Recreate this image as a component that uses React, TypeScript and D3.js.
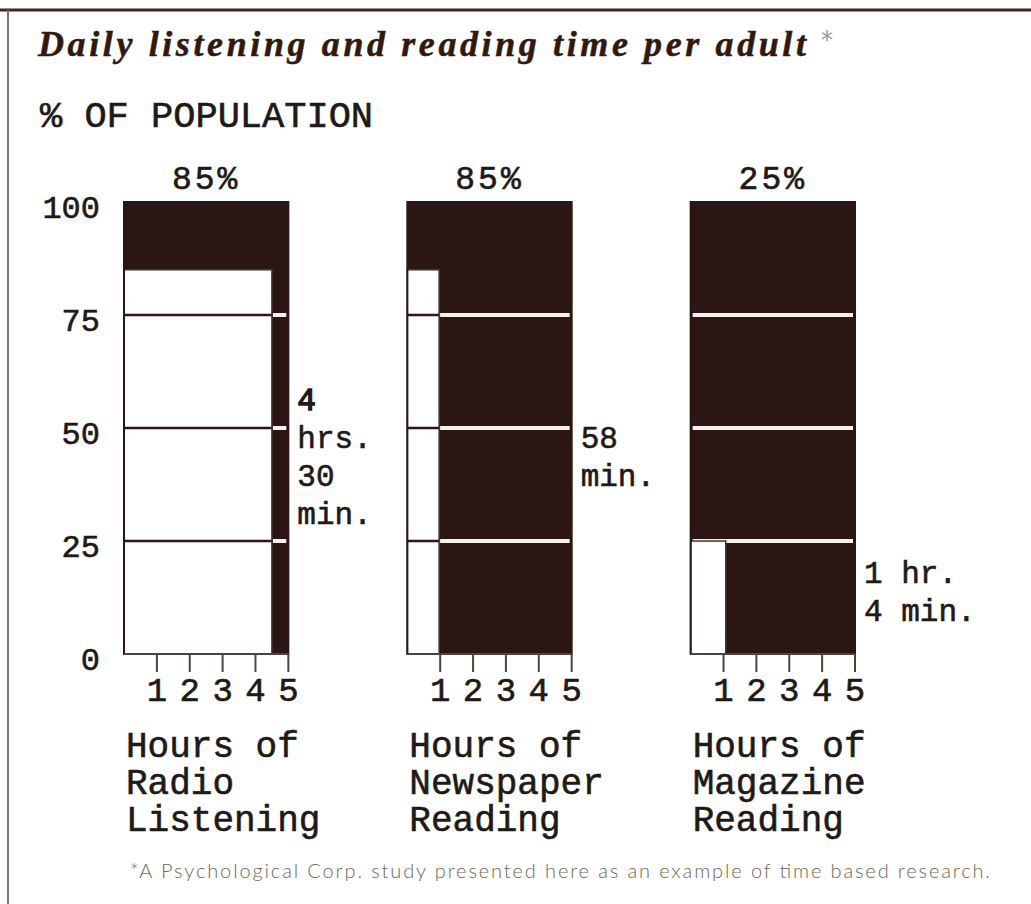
import React from 'react';
import * as d3 from 'd3';

// values
const media = ['Radio Listening', 'Newspaper Reading', 'Magazine Reading'];
const pctOfPopulation = [85, 85, 25];
const hoursPerDay = [4.5, 58 / 60, 64 / 60];
const pctLabels = ['85%', '85%', '25%'];
const timeLabels = [['4', 'hrs.', '30', 'min.'], ['58', 'min.'], ['1 hr.', '4 min.']];
const axisTitles = [
  ['Hours of', 'Radio', 'Listening'],
  ['Hours of', 'Newspaper', 'Reading'],
  ['Hours of', 'Magazine', 'Reading'],
];
const pctTicks = [0, 25, 50, 75, 100];
const gridTicks = [25, 50, 75];
const hourTicks = [1, 2, 3, 4, 5];

const W = 1031;
const H = 904;
const DARK = '#2c1613';
const INK = '#1e1a17';
const MONO = '"Liberation Mono", "DejaVu Sans Mono", monospace';

// typewriter text is a little heavier than Liberation Mono
const mono = { fontFamily: MONO, fill: INK, stroke: INK, strokeWidth: 0.6 };

const App: React.FC = () => {
  const panel = d3.scaleBand().domain(media).range([124, 855]).paddingInner(0.42).paddingOuter(0);
  const y = d3.scaleLinear().domain([0, 100]).range([654, 202]);
  const bw = panel.bandwidth();

  return (
    <svg width={W} height={H} style={{ display: 'block', background: '#fff' }}>
      <style>{`body{margin:0}`}</style>
      {/* frame */}
      <line x1={0} x2={W} y1={10} y2={10} stroke="#3a2a22" strokeWidth={3} />
      <line x1={8} x2={8} y1={10} y2={H} stroke="#777" strokeWidth={2} />

      <text x={38} y={56} fontFamily='"Liberation Serif", serif' fontWeight="bold" fontStyle="italic"
        fontSize={36} fill="#301a10" stroke="#301a10" strokeWidth={0.5} textLength={768} lengthAdjust="spacing">
        Daily listening and reading time per adult
      </text>
      <text x={821} y={48} fontFamily='"DejaVu Sans", sans-serif' fontSize={24} fill="#9a9a9a">*</text>

      <text x={40} y={127} fontSize={37} {...mono}>% OF POPULATION</text>

      {pctTicks.map((t) => (
        <text key={t} x={100} y={y(t) + 5} dy="0.35em" textAnchor="end" fontSize={32} {...mono}>
          {t}
        </text>
      ))}

      {media.map((m, i) => {
        const x0 = panel(m) as number;
        const x = d3.scaleLinear().domain([0, 5]).range([x0, x0 + bw]);
        const wx = x(hoursPerDay[i]);
        const wy = y(pctOfPopulation[i]);
        const labelMid = y(pctOfPopulation[i] / 2);
        const nLines = timeLabels[i].length;
        return (
          <g key={m}>
            <rect x={x(0)} y={y(100)} width={x(5) - x(0)} height={y(0) - y(100)} fill={DARK} />
            <rect x={x(0)} y={wy} width={wx - x(0)} height={y(0) - wy} fill="#fff" />
            {gridTicks.map((g) => {
              const inWhite = g < pctOfPopulation[i];
              return (
                <g key={g}>
                  {inWhite && (
                    <line x1={x(0)} x2={wx} y1={y(g)} y2={y(g)} stroke={DARK} strokeWidth={2.5} />
                  )}
                  <line x1={inWhite ? wx + 1 : x(0) + 2} x2={x(5) - 2} y1={y(g)} y2={y(g)}
                    stroke="#f4f1ea" strokeWidth={4} />
                </g>
              );
            })}
            {/* white area outline */}
            <rect x={x(0)} y={wy} width={wx - x(0)} height={y(0) - wy} fill="none" stroke="#3d3a30" strokeWidth={1.5} />
            <rect x={x(0)} y={y(100)} width={x(5) - x(0)} height={y(0) - y(100)} fill="none" stroke={DARK} strokeWidth={2} />

            {/* hour axis */}
            <line x1={x(0)} x2={x(5)} y1={y(0)} y2={y(0)} stroke="#4a463c" strokeWidth={2} />
            {hourTicks.map((h) => (
              <g key={h}>
                <line x1={x(h)} x2={x(h)} y1={y(0)} y2={y(0) + 18} stroke="#4a463c" strokeWidth={2} />
                <text x={x(h)} y={y(0) + 47} textAnchor="middle" fontSize={34} {...mono}>
                  {h}
                </text>
              </g>
            ))}

            <text x={x0 + bw / 2} y={y(100) - 13} textAnchor="middle" fontSize={33} letterSpacing={3} {...mono}>
              {pctLabels[i]}
            </text>

            {timeLabels[i].map((t, k) => (
              <text key={k} x={x(5) + 9} y={labelMid - 6 + (k - (nLines - 1) / 2) * 38} dy="0.35em"
                fontSize={31} {...mono} strokeWidth={k === 0 && i === 0 ? 1.4 : 0.6}>
                {t}
              </text>
            ))}

            {axisTitles[i].map((t, k) => (
              <text key={k} x={x0 + 2} y={y(0) + 103 + k * 37} fontSize={36} {...mono}>
                {t}
              </text>
            ))}
          </g>
        );
      })}

      <text x={130} y={878} fontFamily='Lato, "Open Sans", sans-serif' fontWeight={300} fontSize={20}
        fill="#6c6952" textLength={860} lengthAdjust="spacing">
        *A Psychological Corp. study presented here as an example of time based research.
      </text>
    </svg>
  );
};

export default App;
